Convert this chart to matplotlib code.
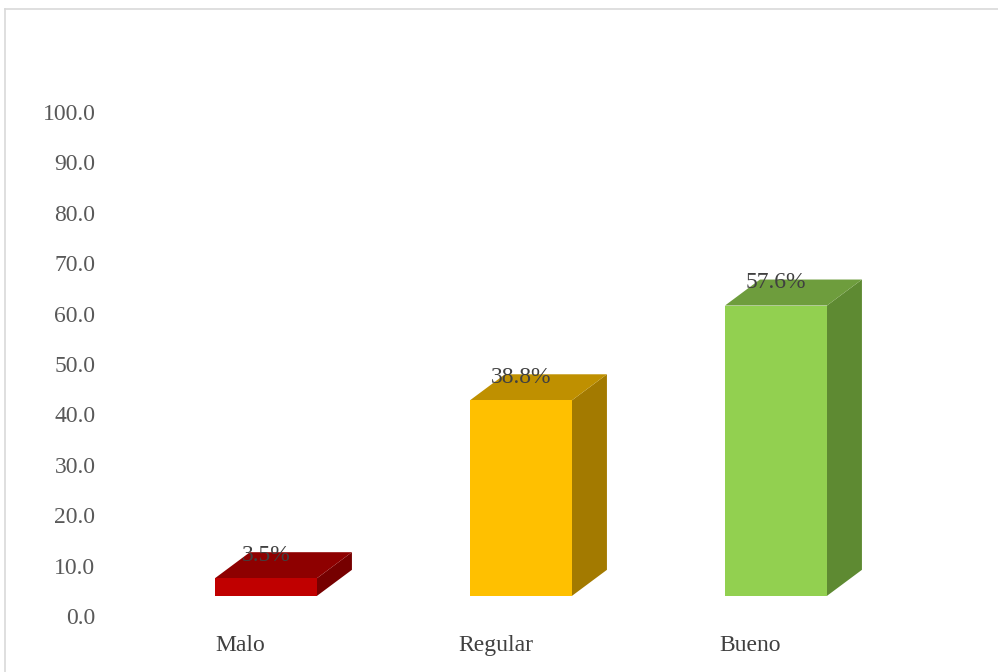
import matplotlib.pyplot as plt
from matplotlib.patches import Polygon
import numpy as np

categories = ['Malo', 'Regular', 'Bueno']
values = [3.5, 38.8, 57.6]
labels = ['3.5%', '38.8%', '57.6%']

front_colors = ['#C00000', '#FFC000', '#92D050']
top_colors = ['#8E0000', '#BF9000', '#6E9D3D']
side_colors = ['#760000', '#A37A00', '#5E8A32']

plt.rcParams['font.family'] = ['Liberation Serif', 'DejaVu Serif']

fig = plt.figure(figsize=(9.98, 6.72), dpi=100)
ax = fig.add_axes([138.5 / 998, 56 / 672, 765 / 998, 504 / 672])
ax.set_xlim(-0.5, 2.5)
ax.set_ylim(0, 100)

floor = 4.0      # 3D floor offset
w = 0.40         # front face width
dx = 0.137       # depth in x
dy = 5.16        # depth in value units

x = np.arange(len(categories))
for i, v in enumerate(values):
    x0, x1 = x[i] - w / 2, x[i] + w / 2
    y0, y1 = floor, floor + v
    front = [(x0, y0), (x1, y0), (x1, y1), (x0, y1)]
    top = [(x0, y1), (x1, y1), (x1 + dx, y1 + dy), (x0 + dx, y1 + dy)]
    side = [(x1, y0), (x1 + dx, y0 + dy), (x1 + dx, y1 + dy), (x1, y1)]
    ax.add_patch(Polygon(side, closed=True, facecolor=side_colors[i], edgecolor='none'))
    ax.add_patch(Polygon(top, closed=True, facecolor=top_colors[i], edgecolor='none'))
    ax.add_patch(Polygon(front, closed=True, facecolor=front_colors[i], edgecolor='none'))
    ax.text(x[i], y1 + dy * 0.88, labels[i], ha='center', va='center',
            fontsize=17, color='#404040')

ax.set_yticks(np.arange(0, 101, 10))
ax.set_yticklabels(['%.1f' % t for t in np.arange(0, 101, 10)])
ax.set_xticks(x - 0.1)
ax.set_xticklabels(categories)
ax.tick_params(axis='y', length=0, pad=31, labelsize=17, labelcolor='#595959')
ax.tick_params(axis='x', length=0, pad=14, labelsize=17, labelcolor='#404040')
for s in ax.spines.values():
    s.set_visible(False)

# chart area border (left and top visible)
fig.add_artist(plt.Line2D([5 / 998, 5 / 998], [0, 1 - 9 / 672], transform=fig.transFigure,
                          color='#d9d9d9', lw=1.2))
fig.add_artist(plt.Line2D([5 / 998, 1], [1 - 9 / 672, 1 - 9 / 672], transform=fig.transFigure,
                          color='#d9d9d9', lw=1.2))

plt.savefig('out.png', dpi=100)
